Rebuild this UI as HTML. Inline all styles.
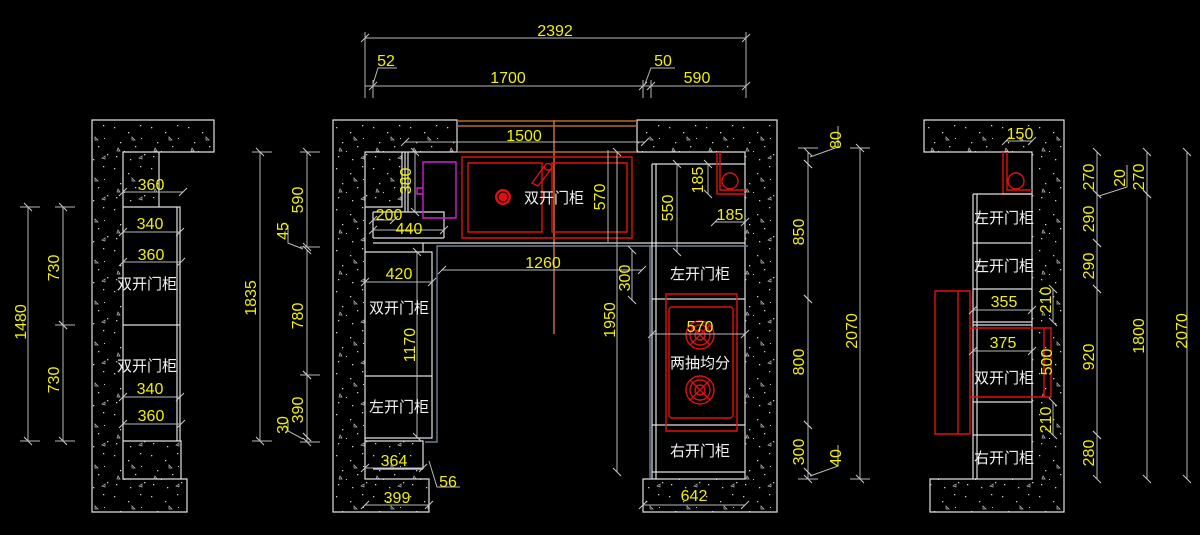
<!DOCTYPE html>
<html><head><meta charset="utf-8"><style>
html,body{margin:0;padding:0;background:#000;}
svg{display:block}
.w{stroke:#e0e0e0;stroke-width:1.2;fill:none}
.d{stroke:#b8b8b8;stroke-width:1;fill:none}
.r{stroke:#e01010;stroke-width:1.4;fill:none}
.b{stroke:#b86a2a;stroke-width:1.6;fill:none}
.bl{stroke:#6f7f99;stroke-width:1.4;fill:none}
.y{fill:#f0f000;font-family:"Liberation Sans",sans-serif;font-size:16px;text-anchor:middle}
.c{fill:#f2f2f2;font-family:"Liberation Sans","Noto Sans CJK SC",sans-serif;font-size:15px;text-anchor:middle}
</style></head><body>
<svg width="1200" height="535" viewBox="0 0 1200 535" xmlns="http://www.w3.org/2000/svg">
<defs>
<pattern id="h" width="37" height="41" patternUnits="userSpaceOnUse">
<g fill="#cfcfcf">
<rect x="3" y="4" width="1.3" height="1.3"/><rect x="17" y="9" width="1.3" height="1.3"/>
<rect x="29" y="2" width="1.3" height="1.3"/><rect x="9" y="19" width="1.3" height="1.3"/>
<rect x="24" y="23" width="1.3" height="1.3"/><rect x="33" y="31" width="1.3" height="1.3"/>
<rect x="5" y="33" width="1.3" height="1.3"/><rect x="19" y="36" width="1.3" height="1.3"/>
<rect x="13" y="28" width="1" height="1"/><rect x="30" y="15" width="1" height="1"/>
</g>
<path d="M21 14l3 3h-3zM7 25l2 3h-3zM28 35l3-2v3z" stroke="#bbb" stroke-width="0.7" fill="none"/>
</pattern>
<marker id="t" markerWidth="10" markerHeight="10" refX="5" refY="5" orient="auto" markerUnits="userSpaceOnUse">
<path d="M1 9L9 1" stroke="#c8c8c8" stroke-width="1"/>
</marker>
</defs>
<g class="d" marker-start="url(#t)" marker-end="url(#t)"></g>

<!-- LEFT ELEVATION -->
<path d="M92 120H214V152H123V479H187V512H92Z M123 152H159V207H123Z M123 441H181V479H123Z" fill="url(#h)" fill-rule="nonzero"/>
<path class="w" d="M92 120H214V152H123V479H187V512H92Z"/>
<path class="w" d="M159 152V207 M123 207H180V441H123 M177 207V441 M123 325H180 M123 441H181V479"/>
<g class="d" marker-start="url(#t)" marker-end="url(#t)">
<path d="M123 192H183"/><path d="M123 232H180"/><path d="M123 262H181"/><path d="M123 397H180"/><path d="M123 424H181"/>
<path d="M28 207V441"/><path d="M63 207V325"/><path d="M63 325V441"/>
</g>
<path class="d" d="M20 207H40M20 441H40M55 207H75M55 325H75M55 441H75"/>
<text class="y" x="151" y="190">360</text><text class="y" x="150" y="229">340</text><text class="y" x="151" y="260">360</text>
<text class="c" x="147" y="289">双开门柜</text><text class="c" x="147" y="371">双开门柜</text>
<text class="y" x="150" y="394">340</text><text class="y" x="151" y="421">360</text>
<text class="y" transform="translate(26,322) rotate(-90)">1480</text>
<text class="y" transform="translate(59,268) rotate(-90)">730</text>
<text class="y" transform="translate(59,380) rotate(-90)">730</text>

<!-- dims 1835 etc -->
<g class="d" marker-start="url(#t)" marker-end="url(#t)">
<path d="M260 152V441"/><path d="M307 152V247"/><path d="M307 250V375"/><path d="M307 375V437"/><path d="M307 437V442"/>
</g>
<path class="d" d="M252 152H272M252 441H272M300 152H320M300 247H320M300 375H320M300 442H320M288 225V243L303 249M288 420V431L303 439"/>
<text class="y" transform="translate(256,298) rotate(-90)">1835</text>
<text class="y" transform="translate(303,200) rotate(-90)">590</text>
<text class="y" transform="translate(288,231) rotate(-90)">45</text>
<text class="y" transform="translate(303,316) rotate(-90)">780</text>
<text class="y" transform="translate(303,410) rotate(-90)">390</text>
<text class="y" transform="translate(288,425) rotate(-90)">30</text>

<!-- TOP DIMS -->
<g class="d" marker-start="url(#t)" marker-end="url(#t)">
<path d="M365 38H746"/><path d="M373 86H643"/><path d="M651 86H746"/>
</g>
<path class="d" d="M365 32V98M746 32V98M373 80V98M643 80V98M651 80V98M365 86H373M643 86H651M373 84L378 68H397M645 84L651 68H675"/>
<text class="y" x="555" y="36">2392</text><text class="y" x="386" y="66">52</text>
<text class="y" x="508" y="83">1700</text><text class="y" x="663" y="66">50</text><text class="y" x="697" y="83">590</text>

<!-- PLAN -->
<path d="M333 120H457V152H365V479H429V512H333Z M365 152H402V207H365Z M365 441H423V479H365Z" fill="url(#h)"/>
<path d="M637 120H777V512H643V479H745V152H637Z" fill="url(#h)"/>
<path class="w" d="M333 120H457V152H365V479H429V512H333Z"/>
<path class="w" d="M637 120H777V512H643V479H745V152H637Z"/>
<path class="b" d="M457 121H637M457 126H637M457 152H637M554 120V334"/>
<g class="d" marker-start="url(#t)" marker-end="url(#t)"><path d="M405 142H645"/></g>
<text class="y" x="524" y="141">1500</text>
<path class="w" d="M365 207H402V152 M405 152V212 M408 152V212 M373 212H444V238 M373 212V238 M373 238H444 M373 243H745 M365 252H432V438H365 M365 376H432 M423 243V252 M365 441H423V469 M373 469H423"/>
<path stroke="#d020d0" stroke-width="1.4" fill="none" d="M423 162H456V218H423Z M417 188H423V194H417Z"/>
<path class="r" d="M462 157H632V238H462Z M468 163H542V232H468Z M552 163H627V232H552Z"/>
<circle cx="503" cy="197" r="8" fill="#e01010"/><circle cx="503" cy="197" r="5" fill="none" stroke="#000" stroke-width="1"/>
<path class="r" d="M532 183L546 164A4 4 0 0 1 552 168L538 186Z M544 166A4 4 0 1 0 552 166"/>
<text class="c" x="554" y="203">双开门柜</text>
<text class="y" transform="translate(605,197) rotate(-90)">570</text>
<path class="d" d="M608 150V242"/>
<path class="bl" d="M425 442H437V246H748 M650 246V478"/>
<g class="d" marker-start="url(#t)" marker-end="url(#t)">
<path d="M442 270H642"/><path d="M632 250V300"/><path d="M617 152V472"/>
<path d="M365 282H432"/><path d="M417 252V437"/><path d="M365 468H423"/><path d="M365 505H429"/>
<path d="M373 230H444"/><path d="M373 220H394"/><path d="M415 152V212"/>
</g>
<text class="y" x="543" y="268">1260</text>
<text class="y" transform="translate(630,278) rotate(-90)">300</text>
<text class="y" transform="translate(615,320) rotate(-90)">1950</text>
<text class="y" x="399" y="279">420</text><text class="c" x="399" y="313">双开门柜</text>
<text class="y" transform="translate(415,345) rotate(-90)">1170</text>
<text class="c" x="399" y="412">左开门柜</text>
<text class="y" x="394" y="466">364</text><text class="y" x="397" y="503">399</text>
<text class="y" x="448" y="487">56</text><path class="d" d="M429 461L437 487H460"/>
<text class="y" x="409" y="234">440</text><text class="y" x="389" y="220">200</text>
<text class="y" transform="translate(411,181) rotate(-90)">380</text>

<!-- right column -->
<path class="w" d="M652 164H745 M652 164V479 M656 164V479 M652 299H745 M652 425H745 M652 472H745"/>
<path class="r" d="M717 152V194H745 M720 152V190H745"/><circle class="r" cx="730" cy="181" r="8"/>
<path class="r" d="M666 294H737V431H666Z"/>
<rect class="r" x="669" y="307" width="64" height="111" rx="3"/>
<g class="r"><circle cx="700" cy="335" r="14"/><circle cx="700" cy="335" r="10"/><circle cx="700" cy="335" r="5"/><path d="M690 325L710 345M710 325L690 345"/>
<circle cx="700" cy="390" r="14"/><circle cx="700" cy="390" r="10"/><circle cx="700" cy="390" r="5"/><path d="M690 380L710 400M710 380L690 400"/></g>
<g class="d" marker-start="url(#t)" marker-end="url(#t)">
<path d="M708 164V194"/><path d="M715 222H745"/><path d="M677 164V252"/><path d="M652 334H745"/><path d="M643 505H745"/>
</g>
<text class="y" x="700" y="332">570</text><text class="c" x="700" y="368">两抽均分</text>
<text class="c" x="700" y="456">右开门柜</text><text class="c" x="700" y="279">左开门柜</text>
<text class="y" transform="translate(703,180) rotate(-90)">185</text>
<text class="y" x="730" y="220">185</text>
<text class="y" transform="translate(673,208) rotate(-90)">550</text>
<text class="y" x="694" y="501">642</text>
<g class="d" marker-start="url(#t)" marker-end="url(#t)">
<path d="M808 152V164"/><path d="M808 164V299"/><path d="M808 299V425"/><path d="M808 425V472"/><path d="M808 472V479"/><path d="M860 148V479"/>
</g>
<path class="d" d="M798 148H818M798 479H818M850 148H870M850 479H870M810 157L838 147V126M810 476L838 466V445"/>
<text class="y" transform="translate(804,232) rotate(-90)">850</text>
<text class="y" transform="translate(804,362) rotate(-90)">800</text>
<text class="y" transform="translate(804,452) rotate(-90)">300</text>
<text class="y" transform="translate(841,140) rotate(-90)">80</text>
<text class="y" transform="translate(841,458) rotate(-90)">40</text>
<text class="y" transform="translate(857,331) rotate(-90)">2070</text>

<!-- RIGHT ELEVATION -->
<path d="M924 120H1064V512H930V479H1032V152H924Z" fill="url(#h)"/>
<path class="w" d="M924 120H1064V512H930V479H1032V152H924Z"/>
<path class="r" d="M1003 152V194H1032 M1007 152V190H1032"/><circle class="r" cx="1016" cy="181" r="8"/>
<path class="w" d="M973 194H1032 M973 194V479 M977 194V479 M973 243H1032 M973 289H1032 M973 322H1032 M973 325H1032 M973 402H1032 M973 435H1032"/>
<path class="r" d="M970 328H1051V397H970Z M1044 328V397 M935 291H970V434H935Z M958 291V434"/>
<g class="d" marker-start="url(#t)" marker-end="url(#t)">
<path d="M1006 141H1032"/><path d="M973 310H1032"/><path d="M973 351H1032"/>
<path d="M1053 289V322"/><path d="M1053 402V435"/>
<path d="M1097 152V194"/><path d="M1097 194V243"/><path d="M1097 243V289"/><path d="M1097 289V435"/><path d="M1097 435V479"/>
<path d="M1147 152V194"/><path d="M1147 194V479"/><path d="M1187 152V479"/>
</g>
<path class="d" d="M1099 196L1127 187V165"/>
<text class="y" x="1020" y="139">150</text>
<text class="c" x="1004" y="223">左开门柜</text><text class="c" x="1004" y="271">左开门柜</text>
<text class="y" x="1004" y="307">355</text><text class="y" x="1003" y="348">375</text>
<text class="c" x="1004" y="383">双开门柜</text><text class="c" x="1004" y="463">右开门柜</text>
<text class="y" transform="translate(1051,300) rotate(-90)">210</text>
<text class="y" transform="translate(1052,362) rotate(-90)">500</text>
<text class="y" transform="translate(1051,420) rotate(-90)">210</text>
<text class="y" transform="translate(1094,177) rotate(-90)">270</text>
<text class="y" transform="translate(1094,219) rotate(-90)">290</text>
<text class="y" transform="translate(1094,266) rotate(-90)">290</text>
<text class="y" transform="translate(1094,357) rotate(-90)">920</text>
<text class="y" transform="translate(1094,453) rotate(-90)">280</text>
<text class="y" transform="translate(1125,178) rotate(-90)">20</text>
<text class="y" transform="translate(1144,177) rotate(-90)">270</text>
<text class="y" transform="translate(1144,336) rotate(-90)">1800</text>
<text class="y" transform="translate(1187,331) rotate(-90)">2070</text>
</svg>
</body></html>
